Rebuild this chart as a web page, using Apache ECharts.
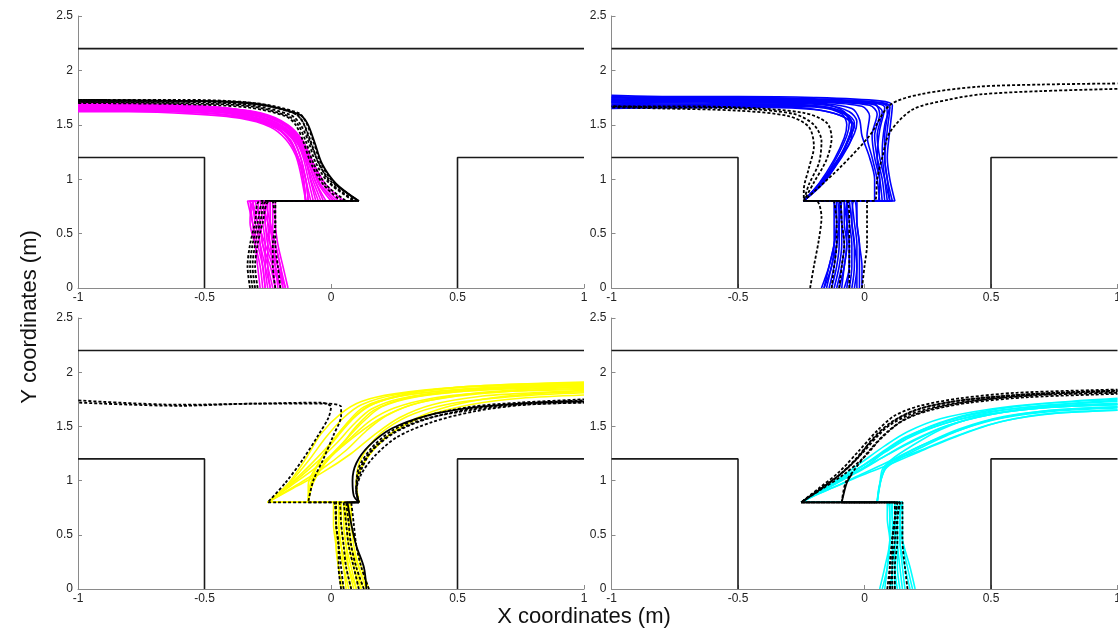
<!DOCTYPE html>
<html>
<head>
<meta charset="utf-8">
<script src="https://cdn.jsdelivr.net/npm/echarts/dist/echarts.min.js"></script>
<style>
  html, body { margin: 0; padding: 0; background: #ffffff; }
  #chart { width: 1118px; height: 632px; }
</style>
</head>
<body>
<div id="chart"></div>
<script>
// Axis ranges and ticks (metres)
const xMin = -1, xMax = 1, xStep = 0.5;
const yMin = 0, yMax = 2.5, yStep = 0.5;

// Corridor walls (T-junction)
const wallTop = [[-1, 2.2], [1, 2.2]];
const wallLeft = [[-1, 1.2], [-0.5, 1.2], [-0.5, 0]];
const wallRight = [[0.5, 0], [0.5, 1.2], [1, 1.2]];

// Panel 1: turning left (magenta runs)
const magentaPaths = [
  [[-0.17,0],[-0.19,0.2],[-0.21,0.4],[-0.22,0.6],[-0.22,0.8],[0.05,0.8],[-0.02,0.95],[-0.07,1.15],[-0.11,1.35],[-0.17,1.5],[-0.28,1.61],[-0.5,1.67],[-0.8,1.69],[-1,1.70]],
  [[-0.19,0],[-0.21,0.2],[-0.23,0.4],[-0.24,0.6],[-0.24,0.8],[0.02,0.8],[-0.04,0.95],[-0.08,1.15],[-0.12,1.35],[-0.18,1.5],[-0.3,1.6],[-0.5,1.66],[-0.8,1.68],[-1,1.69]],
  [[-0.2,0],[-0.22,0.2],[-0.25,0.4],[-0.26,0.6],[-0.27,0.8],[-0.02,0.8],[-0.06,0.97],[-0.09,1.15],[-0.13,1.33],[-0.19,1.48],[-0.3,1.58],[-0.5,1.65],[-0.8,1.67],[-1,1.68]],
  [[-0.22,0],[-0.23,0.2],[-0.24,0.4],[-0.25,0.6],[-0.25,0.8],[-0.05,0.8],[-0.08,1.0],[-0.1,1.18],[-0.14,1.35],[-0.2,1.48],[-0.32,1.58],[-0.5,1.64],[-0.8,1.66],[-1,1.67]],
  [[-0.23,0],[-0.25,0.2],[-0.27,0.4],[-0.28,0.6],[-0.29,0.8],[-0.09,0.8],[-0.1,1.0],[-0.12,1.2],[-0.15,1.36],[-0.21,1.48],[-0.33,1.57],[-0.5,1.63],[-0.8,1.65],[-1,1.66]],
  [[-0.24,0],[-0.26,0.2],[-0.28,0.4],[-0.3,0.6],[-0.31,0.8],[-0.1,0.8],[-0.11,1.0],[-0.13,1.2],[-0.16,1.36],[-0.22,1.47],[-0.34,1.56],[-0.5,1.61],[-0.8,1.63],[-1,1.64]],
  [[-0.26,0],[-0.27,0.2],[-0.29,0.4],[-0.31,0.6],[-0.33,0.8],[-0.1,0.8],[-0.12,1.05],[-0.14,1.22],[-0.18,1.37],[-0.24,1.48],[-0.36,1.56],[-0.55,1.6],[-0.8,1.62],[-1,1.62]],
  [[-0.28,0],[-0.29,0.2],[-0.3,0.4],[-0.31,0.6],[-0.32,0.8],[-0.09,0.8],[-0.1,1.0],[-0.13,1.2],[-0.17,1.38],[-0.23,1.5],[-0.35,1.59],[-0.55,1.63],[-0.8,1.64],[-1,1.65]],
  [[-0.21,0],[-0.22,0.2],[-0.23,0.4],[-0.23,0.6],[-0.23,0.8],[-0.07,0.8],[-0.09,1.0],[-0.11,1.2],[-0.14,1.36],[-0.2,1.49],[-0.31,1.59],[-0.5,1.65],[-0.8,1.67],[-1,1.68]],
  [[-0.25,0],[-0.26,0.2],[-0.26,0.4],[-0.27,0.6],[-0.28,0.8],[0.0,0.8],[-0.05,0.96],[-0.08,1.15],[-0.12,1.34],[-0.18,1.49],[-0.29,1.6],[-0.5,1.66],[-0.8,1.68],[-1,1.69]],
  [[-0.18,0],[-0.2,0.2],[-0.22,0.4],[-0.24,0.6],[-0.26,0.8],[-0.08,0.8],[-0.1,1.0],[-0.12,1.2],[-0.15,1.37],[-0.21,1.49],[-0.33,1.58],[-0.5,1.63],[-0.8,1.65],[-1,1.65]],
  [[-0.27,0],[-0.28,0.2],[-0.3,0.4],[-0.32,0.6],[-0.3,0.8],[-0.04,0.8],[-0.07,0.98],[-0.1,1.17],[-0.13,1.34],[-0.19,1.48],[-0.31,1.59],[-0.5,1.64],[-0.8,1.66],[-1,1.67]],
  [[-0.2,0],[-0.23,0.2],[-0.26,0.4],[-0.29,0.6],[-0.32,0.8],[-0.1,0.8],[-0.11,1.02],[-0.13,1.2],[-0.17,1.37],[-0.23,1.49],[-0.35,1.57],[-0.55,1.62],[-0.8,1.63],[-1,1.63]],
  [[-0.24,0],[-0.25,0.2],[-0.25,0.4],[-0.24,0.6],[-0.24,0.8],[0.03,0.8],[-0.03,0.95],[-0.075,1.16],[-0.115,1.35],[-0.175,1.5],[-0.29,1.61],[-0.5,1.67],[-0.8,1.69],[-1,1.70]],
  [[-0.19,0],[-0.2,0.2],[-0.22,0.4],[-0.25,0.6],[-0.27,0.8],[-0.06,0.8],[-0.08,0.98],[-0.1,1.17],[-0.13,1.35],[-0.19,1.49],[-0.3,1.59],[-0.5,1.65],[-0.8,1.66],[-1,1.66]],
  [[-0.22,0],[-0.24,0.2],[-0.27,0.4],[-0.28,0.6],[-0.3,0.8],[-0.03,0.8],[-0.06,0.97],[-0.09,1.16],[-0.125,1.34],[-0.18,1.49],[-0.29,1.6],[-0.5,1.66],[-0.8,1.68],[-1,1.68]],
  [[-0.26,0],[-0.27,0.2],[-0.28,0.4],[-0.29,0.6],[-0.31,0.8],[-0.1,0.8],[-0.11,1.02],[-0.135,1.22],[-0.17,1.38],[-0.24,1.5],[-0.38,1.58],[-0.6,1.62],[-0.8,1.63],[-1,1.64]],
  [[-0.18,0],[-0.21,0.2],[-0.24,0.4],[-0.26,0.6],[-0.25,0.8],[0.01,0.8],[-0.045,0.96],[-0.085,1.16],[-0.12,1.35],[-0.18,1.5],[-0.3,1.61],[-0.5,1.67],[-0.8,1.69],[-1,1.69]]
];
const magentaRefPaths = [
  [[-0.32,0],[-0.33,0.2],[-0.32,0.4],[-0.3,0.6],[-0.28,0.8],[0.11,0.8],[0.0,0.98],[-0.05,1.15],[-0.08,1.35],[-0.11,1.52],[-0.14,1.6],[-0.3,1.69],[-0.6,1.72],[-1,1.72]],
  [[-0.31,0],[-0.32,0.2],[-0.31,0.4],[-0.29,0.6],[-0.26,0.8],[0.09,0.8],[-0.01,0.97],[-0.06,1.15],[-0.09,1.35],[-0.12,1.5],[-0.16,1.59],[-0.32,1.68],[-0.6,1.71],[-1,1.71]],
  [[-0.3,0],[-0.31,0.2],[-0.3,0.4],[-0.28,0.6],[-0.25,0.8],[0.06,0.8],[-0.02,0.95],[-0.07,1.15],[-0.1,1.35],[-0.13,1.5],[-0.17,1.58],[-0.32,1.67],[-0.6,1.70],[-1,1.71]],
  [[-0.22,0],[-0.23,0.2],[-0.23,0.4],[-0.22,0.6],[-0.22,0.8],[0.11,0.8],[0.01,0.97],[-0.04,1.15],[-0.07,1.35],[-0.1,1.53],[-0.13,1.61],[-0.3,1.7],[-0.6,1.73],[-1,1.73]],
  [[-0.2,0],[-0.21,0.2],[-0.22,0.4],[-0.22,0.6],[-0.23,0.8],[0.04,0.8],[-0.03,0.95],[-0.08,1.15],[-0.11,1.35],[-0.14,1.5],[-0.18,1.58],[-0.33,1.66],[-0.6,1.69],[-1,1.70]],
  [[-0.29,0],[-0.3,0.2],[-0.29,0.4],[-0.27,0.6],[-0.24,0.8],[0.1,0.8],[0.0,0.96],[-0.05,1.16],[-0.085,1.36],[-0.115,1.54],[-0.15,1.61],[-0.31,1.7],[-0.6,1.72],[-1,1.73]]
];
const magentaRefSolid = [
  [[-0.1,0.8],[0.11,0.8],[0.02,0.96],[-0.035,1.14],[-0.065,1.34],[-0.095,1.52],[-0.13,1.6],[-0.3,1.69],[-0.6,1.72],[-1,1.72]]
];

// Panel 2: turning left (blue runs)
const bluePaths = [
  [[-0.13,0],[-0.11,0.2],[-0.1,0.4],[-0.1,0.6],[-0.11,0.8],[-0.24,0.8],[-0.17,0.98],[-0.1,1.2],[-0.05,1.42],[-0.04,1.52],[-0.07,1.6],[-0.15,1.66],[-0.4,1.68],[-0.7,1.67],[-1,1.67]],
  [[-0.16,0],[-0.13,0.2],[-0.12,0.4],[-0.12,0.6],[-0.12,0.8],[-0.24,0.8],[-0.16,0.98],[-0.09,1.2],[-0.04,1.42],[-0.03,1.53],[-0.06,1.62],[-0.15,1.68],[-0.4,1.7],[-0.7,1.69],[-1,1.70]],
  [[-0.11,0],[-0.09,0.2],[-0.08,0.4],[-0.09,0.6],[-0.1,0.8],[-0.24,0.8],[-0.18,0.96],[-0.12,1.18],[-0.08,1.38],[-0.07,1.5],[-0.09,1.6],[-0.18,1.66],[-0.4,1.67],[-0.7,1.66],[-1,1.66]],
  [[-0.14,0],[-0.12,0.2],[-0.11,0.4],[-0.1,0.6],[-0.09,0.8],[-0.24,0.8],[-0.17,0.97],[-0.11,1.2],[-0.07,1.4],[-0.06,1.52],[-0.08,1.62],[-0.16,1.69],[-0.4,1.71],[-0.7,1.70],[-1,1.71]],
  [[-0.09,0],[-0.08,0.2],[-0.07,0.4],[-0.08,0.6],[-0.08,0.8],[-0.24,0.8],[-0.16,0.99],[-0.09,1.22],[-0.05,1.4],[-0.05,1.52],[-0.08,1.61],[-0.17,1.67],[-0.4,1.69],[-0.7,1.68],[-1,1.68]],
  [[-0.12,0],[-0.1,0.2],[-0.09,0.4],[-0.09,0.6],[-0.1,0.8],[-0.24,0.8],[-0.17,0.98],[-0.1,1.2],[-0.06,1.4],[-0.05,1.5],[-0.09,1.58],[-0.2,1.64],[-0.4,1.66],[-0.7,1.66],[-1,1.65]],
  [[-0.06,0],[-0.05,0.2],[-0.05,0.4],[-0.06,0.6],[-0.07,0.8],[0.11,0.8],[0.09,1.0],[0.08,1.2],[0.09,1.45],[0.1,1.66],[0.05,1.70],[-0.2,1.73],[-0.5,1.74],[-0.8,1.74],[-1,1.75]],
  [[-0.04,0],[-0.03,0.2],[-0.03,0.4],[-0.04,0.6],[-0.05,0.8],[0.12,0.8],[0.1,1.0],[0.09,1.2],[0.1,1.45],[0.11,1.68],[0.06,1.72],[-0.2,1.75],[-0.5,1.76],[-0.8,1.76],[-1,1.77]],
  [[-0.02,0],[-0.02,0.2],[-0.02,0.4],[-0.03,0.6],[-0.03,0.8],[0.05,0.8],[0.06,1.0],[0.05,1.2],[0.06,1.45],[0.08,1.66],[0.03,1.70],[-0.2,1.72],[-0.5,1.73],[-0.8,1.72],[-1,1.73]],
  [[-0.08,0],[-0.06,0.2],[-0.06,0.4],[-0.07,0.6],[-0.08,0.8],[0.08,0.8],[0.07,1.0],[0.05,1.2],[0.04,1.4],[0.06,1.6],[0.04,1.69],[-0.2,1.72],[-0.5,1.73],[-0.8,1.73],[-1,1.74]],
  [[-0.1,0],[-0.08,0.2],[-0.07,0.4],[-0.07,0.6],[-0.06,0.8],[0.1,0.8],[0.08,1.0],[0.06,1.2],[0.05,1.4],[0.07,1.62],[0.03,1.69],[-0.2,1.71],[-0.5,1.72],[-0.8,1.72],[-1,1.72]],
  [[-0.15,0],[-0.13,0.2],[-0.11,0.4],[-0.1,0.6],[-0.1,0.8],[0.06,0.8],[0.05,1.0],[0.03,1.2],[0.01,1.4],[0.02,1.58],[-0.01,1.67],[-0.2,1.71],[-0.5,1.72],[-0.8,1.71],[-1,1.71]],
  [[-0.05,0],[-0.04,0.2],[-0.04,0.4],[-0.05,0.6],[-0.06,0.8],[0.09,0.8],[0.08,1.0],[0.07,1.25],[0.08,1.5],[0.1,1.67],[0.05,1.71],[-0.2,1.73],[-0.5,1.75],[-0.8,1.75],[-1,1.76]],
  [[-0.17,0],[-0.14,0.2],[-0.12,0.4],[-0.11,0.6],[-0.12,0.8],[0.04,0.8],[0.04,1.0],[0.02,1.2],[-0.01,1.4],[-0.02,1.55],[-0.05,1.65],[-0.2,1.70],[-0.5,1.71],[-0.8,1.71],[-1,1.71]],
  [[-0.07,0],[-0.06,0.2],[-0.06,0.4],[-0.07,0.6],[-0.07,0.8],[-0.24,0.8],[-0.16,0.97],[-0.1,1.18],[-0.06,1.38],[-0.04,1.49],[-0.1,1.59],[-0.22,1.65],[-0.4,1.67],[-0.7,1.67],[-1,1.67]],
  [[-0.03,0],[-0.03,0.2],[-0.04,0.4],[-0.05,0.6],[-0.04,0.8],[0.1,0.8],[0.09,1.0],[0.08,1.2],[0.08,1.4],[0.09,1.6],[0.08,1.69],[-0.2,1.74],[-0.5,1.75],[-0.8,1.75],[-1,1.75]],
  [[-0.16,0],[-0.14,0.2],[-0.12,0.4],[-0.11,0.6],[-0.11,0.8],[0.07,0.8],[0.06,1.0],[0.04,1.2],[0.03,1.4],[0.05,1.6],[0.02,1.68],[-0.2,1.72],[-0.5,1.73],[-0.8,1.72],[-1,1.73]],
  [[-0.01,0],[-0.01,0.2],[-0.02,0.4],[-0.03,0.6],[-0.04,0.8],[-0.24,0.8],[-0.17,0.97],[-0.1,1.19],[-0.06,1.39],[-0.05,1.51],[-0.08,1.6],[-0.18,1.67],[-0.4,1.69],[-0.7,1.68],[-1,1.69]]
];
const blueRefPaths = [
  [[-0.215,0],[-0.2,0.2],[-0.18,0.45],[-0.17,0.65],[-0.19,0.8],[-0.24,0.8],[-0.24,0.9],[-0.22,1.1],[-0.2,1.3],[-0.22,1.48],[-0.3,1.58],[-0.5,1.63],[-0.8,1.65],[-1,1.66]],
  [[-0.1,0],[-0.09,0.2],[-0.08,0.4],[-0.09,0.6],[-0.1,0.8],[-0.24,0.8],[-0.22,0.95],[-0.18,1.15],[-0.17,1.35],[-0.2,1.5],[-0.28,1.6],[-0.5,1.65],[-0.8,1.66],[-1,1.67]],
  [[-0.06,0],[-0.06,0.2],[-0.06,0.4],[-0.06,0.6],[-0.07,0.8],[-0.24,0.8],[-0.2,0.97],[-0.15,1.18],[-0.13,1.38],[-0.15,1.52],[-0.24,1.61],[-0.5,1.66],[-0.8,1.67],[-1,1.67]],
  [[-0.01,0],[0.0,0.2],[0.01,0.4],[0.01,0.6],[0.01,0.8],[-0.24,0.8],[-0.1,1.1],[0.02,1.4],[0.1,1.68],[0.22,1.78],[0.45,1.85],[0.7,1.87],[1,1.88]],
  [[-0.13,0],[-0.12,0.2],[-0.11,0.4],[-0.11,0.6],[-0.12,0.8],[0.04,0.8],[0.05,1.0],[0.07,1.2],[0.1,1.43],[0.19,1.64],[0.33,1.73],[0.46,1.78],[0.7,1.81],[1,1.83]]
];

// Panel 3: turning right (yellow runs)
const yellowPaths = [
  [[0.05,0],[0.03,0.2],[0.02,0.4],[0.02,0.6],[0.02,0.8],[-0.25,0.8],[-0.17,0.95],[-0.08,1.15],[0.0,1.35],[0.07,1.55],[0.13,1.68],[0.25,1.77],[0.5,1.84],[0.75,1.87],[1,1.89]],
  [[0.07,0],[0.05,0.2],[0.03,0.4],[0.03,0.6],[0.03,0.8],[-0.25,0.8],[-0.16,0.95],[-0.06,1.12],[0.03,1.3],[0.1,1.5],[0.17,1.65],[0.3,1.76],[0.5,1.82],[0.75,1.85],[1,1.87]],
  [[0.1,0],[0.07,0.2],[0.05,0.4],[0.04,0.6],[0.04,0.8],[-0.25,0.8],[-0.15,0.94],[-0.04,1.1],[0.06,1.28],[0.14,1.46],[0.22,1.6],[0.35,1.72],[0.55,1.8],[0.75,1.84],[1,1.86]],
  [[0.12,0],[0.09,0.2],[0.07,0.4],[0.06,0.6],[0.05,0.8],[-0.25,0.8],[-0.17,0.96],[-0.09,1.18],[-0.02,1.4],[0.05,1.58],[0.12,1.70],[0.25,1.79],[0.5,1.86],[0.75,1.89],[1,1.91]],
  [[0.14,0],[0.11,0.2],[0.08,0.4],[0.07,0.6],[0.07,0.8],[-0.09,0.8],[-0.08,0.98],[-0.04,1.2],[0.03,1.42],[0.1,1.6],[0.17,1.71],[0.3,1.79],[0.5,1.84],[0.75,1.87],[1,1.89]],
  [[0.09,0],[0.07,0.2],[0.06,0.4],[0.05,0.6],[0.05,0.8],[-0.09,0.8],[-0.08,0.97],[-0.02,1.18],[0.06,1.38],[0.13,1.55],[0.2,1.68],[0.33,1.77],[0.55,1.83],[0.75,1.86],[1,1.88]],
  [[0.11,0],[0.09,0.2],[0.07,0.4],[0.06,0.6],[0.06,0.8],[-0.09,0.8],[-0.07,0.98],[-0.01,1.2],[0.08,1.4],[0.16,1.56],[0.25,1.67],[0.4,1.76],[0.6,1.81],[0.8,1.83],[1,1.84]],
  [[0.13,0],[0.1,0.2],[0.08,0.4],[0.07,0.6],[0.08,0.8],[0.11,0.8],[0.1,0.95],[0.12,1.12],[0.17,1.3],[0.26,1.47],[0.38,1.6],[0.55,1.70],[0.75,1.76],[1,1.79]],
  [[0.15,0],[0.12,0.2],[0.1,0.4],[0.08,0.6],[0.08,0.8],[0.11,0.8],[0.1,0.97],[0.13,1.16],[0.2,1.36],[0.3,1.53],[0.43,1.66],[0.6,1.75],[0.8,1.80],[1,1.82]],
  [[0.04,0],[0.03,0.2],[0.02,0.4],[0.01,0.6],[0.01,0.8],[-0.25,0.8],[-0.16,0.96],[-0.07,1.14],[0.02,1.34],[0.09,1.52],[0.16,1.66],[0.28,1.76],[0.5,1.83],[0.75,1.86],[1,1.88]],
  [[0.08,0],[0.06,0.2],[0.04,0.4],[0.03,0.6],[0.03,0.8],[-0.25,0.8],[-0.15,0.93],[-0.03,1.08],[0.08,1.25],[0.17,1.42],[0.27,1.58],[0.4,1.70],[0.6,1.78],[0.8,1.81],[1,1.83]],
  [[0.12,0],[0.1,0.2],[0.08,0.4],[0.07,0.6],[0.06,0.8],[-0.09,0.8],[-0.09,0.96],[-0.05,1.16],[0.01,1.38],[0.08,1.56],[0.15,1.69],[0.3,1.80],[0.5,1.86],[0.75,1.89],[1,1.90]],
  [[0.06,0],[0.05,0.2],[0.04,0.4],[0.03,0.6],[0.04,0.8],[-0.25,0.8],[-0.17,0.97],[-0.1,1.2],[-0.04,1.43],[0.04,1.62],[0.12,1.73],[0.25,1.80],[0.5,1.86],[0.75,1.88],[1,1.90]],
  [[0.14,0],[0.11,0.2],[0.09,0.4],[0.08,0.6],[0.07,0.8],[0.11,0.8],[0.1,0.98],[0.11,1.15],[0.15,1.32],[0.22,1.48],[0.33,1.62],[0.5,1.72],[0.75,1.78],[1,1.81]],
  [[0.1,0],[0.08,0.2],[0.06,0.4],[0.05,0.6],[0.05,0.8],[-0.09,0.8],[-0.07,1.0],[0.0,1.22],[0.1,1.42],[0.2,1.58],[0.32,1.70],[0.5,1.78],[0.75,1.83],[1,1.85]]
];
const yellowRefPaths = [
  [[0.05,0],[0.04,0.2],[0.03,0.4],[0.02,0.6],[0.01,0.8],[-0.25,0.8],[-0.18,0.98],[-0.11,1.2],[-0.05,1.42],[-0.01,1.58],[0.0,1.68],[-0.04,1.72],[-0.3,1.71],[-0.6,1.70],[-1,1.74]],
  [[0.08,0],[0.06,0.2],[0.05,0.4],[0.04,0.6],[0.03,0.8],[-0.09,0.8],[-0.07,1.0],[-0.03,1.2],[0.01,1.42],[0.04,1.6],[0.04,1.68],[-0.01,1.71],[-0.3,1.71],[-0.6,1.69],[-1,1.72]],
  [[0.13,0],[0.1,0.2],[0.08,0.4],[0.07,0.6],[0.06,0.8],[0.11,0.8],[0.1,0.9],[0.11,1.08],[0.15,1.25],[0.23,1.42],[0.36,1.56],[0.55,1.65],[0.75,1.70],[1,1.72]],
  [[0.15,0],[0.12,0.2],[0.1,0.4],[0.09,0.6],[0.08,0.8],[0.11,0.8],[0.1,0.92],[0.12,1.1],[0.16,1.27],[0.25,1.44],[0.38,1.57],[0.55,1.66],[0.75,1.71],[1,1.74]],
  [[0.11,0],[0.09,0.2],[0.07,0.4],[0.06,0.6],[0.05,0.8],[0.11,0.8],[0.1,0.9],[0.12,1.06],[0.17,1.22],[0.26,1.4],[0.4,1.54],[0.57,1.64],[0.77,1.70],[1,1.72]],
  [[0.04,0],[0.03,0.2],[0.03,0.4],[0.02,0.6],[0.02,0.8],[0.11,0.8],[0.1,0.92],[0.11,1.12],[0.16,1.3],[0.24,1.46],[0.37,1.59],[0.55,1.68],[0.75,1.72],[1,1.75]]
];
const yellowRefSolid = [
  [[0.14,0],[0.13,0.2],[0.1,0.4],[0.08,0.6],[0.065,0.8],[0.11,0.8],[0.09,0.86],[0.085,1.0],[0.1,1.16],[0.15,1.32],[0.24,1.48],[0.38,1.6],[0.55,1.67],[0.75,1.71],[1,1.73]]
];

// Panel 4: turning right (cyan runs)
const cyanPaths = [
  [[0.06,0],[0.08,0.2],[0.1,0.45],[0.09,0.65],[0.09,0.8],[-0.25,0.8],[-0.19,0.88],[-0.12,0.98],[-0.03,1.1],[0.06,1.24],[0.15,1.38],[0.28,1.5],[0.45,1.6],[0.7,1.67],[1,1.71]],
  [[0.08,0],[0.09,0.2],[0.1,0.45],[0.1,0.65],[0.1,0.8],[-0.25,0.8],[-0.18,0.9],[-0.1,1.01],[0.0,1.15],[0.08,1.28],[0.16,1.4],[0.3,1.53],[0.45,1.62],[0.7,1.69],[1,1.74]],
  [[0.1,0],[0.11,0.2],[0.11,0.45],[0.11,0.65],[0.11,0.8],[-0.25,0.8],[-0.19,0.87],[-0.11,0.95],[-0.01,1.06],[0.1,1.18],[0.22,1.32],[0.38,1.47],[0.55,1.58],[0.75,1.64],[1,1.67]],
  [[0.12,0],[0.12,0.2],[0.12,0.45],[0.12,0.65],[0.12,0.8],[-0.25,0.8],[-0.18,0.89],[-0.09,1.0],[0.01,1.14],[0.1,1.3],[0.2,1.44],[0.33,1.56],[0.5,1.65],[0.75,1.72],[1,1.76]],
  [[0.14,0],[0.13,0.2],[0.13,0.45],[0.13,0.65],[0.13,0.8],[-0.25,0.8],[-0.2,0.87],[-0.13,0.96],[-0.04,1.07],[0.06,1.2],[0.18,1.35],[0.32,1.5],[0.5,1.61],[0.7,1.67],[1,1.70]],
  [[0.16,0],[0.15,0.2],[0.14,0.45],[0.14,0.65],[0.14,0.8],[0.05,0.8],[0.06,0.95],[0.08,1.1],[0.13,1.19],[0.22,1.3],[0.36,1.45],[0.5,1.56],[0.7,1.64],[1,1.68]],
  [[0.18,0],[0.16,0.2],[0.14,0.45],[0.14,0.65],[0.15,0.8],[0.05,0.8],[0.06,0.96],[0.08,1.12],[0.11,1.2],[0.18,1.31],[0.3,1.47],[0.45,1.59],[0.7,1.67],[1,1.70]],
  [[0.2,0],[0.18,0.2],[0.15,0.45],[0.14,0.65],[0.14,0.8],[0.05,0.8],[0.06,0.95],[0.07,1.1],[0.1,1.17],[0.2,1.26],[0.35,1.4],[0.5,1.52],[0.7,1.61],[1,1.65]],
  [[0.07,0],[0.09,0.2],[0.1,0.45],[0.1,0.65],[0.09,0.8],[-0.25,0.8],[-0.19,0.89],[-0.11,0.99],[-0.02,1.12],[0.08,1.26],[0.18,1.4],[0.32,1.53],[0.5,1.63],[0.7,1.69],[1,1.73]],
  [[0.13,0],[0.12,0.2],[0.12,0.45],[0.12,0.65],[0.12,0.8],[-0.25,0.8],[-0.18,0.9],[-0.1,1.02],[-0.01,1.17],[0.08,1.32],[0.17,1.45],[0.3,1.57],[0.5,1.66],[0.7,1.71],[1,1.75]],
  [[0.19,0],[0.17,0.2],[0.15,0.45],[0.15,0.65],[0.15,0.8],[-0.25,0.8],[-0.2,0.86],[-0.12,0.94],[-0.02,1.04],[0.1,1.15],[0.24,1.29],[0.4,1.44],[0.55,1.55],[0.75,1.62],[1,1.65]],
  [[0.11,0],[0.11,0.2],[0.12,0.45],[0.11,0.65],[0.1,0.8],[0.05,0.8],[0.06,0.97],[0.09,1.14],[0.14,1.22],[0.24,1.34],[0.38,1.48],[0.55,1.59],[0.75,1.65],[1,1.68]],
  [[0.15,0],[0.14,0.2],[0.13,0.45],[0.13,0.65],[0.13,0.8],[-0.25,0.8],[-0.19,0.88],[-0.11,0.98],[-0.01,1.1],[0.09,1.24],[0.19,1.37],[0.33,1.51],[0.5,1.61],[0.7,1.68],[1,1.71]]
];
const cyanRefPaths = [
  [[0.09,0],[0.1,0.2],[0.11,0.45],[0.12,0.65],[0.13,0.8],[-0.25,0.8],[-0.18,0.92],[-0.1,1.05],[-0.03,1.2],[0.03,1.38],[0.1,1.53],[0.2,1.65],[0.35,1.73],[0.55,1.78],[0.75,1.81],[1,1.83]],
  [[0.1,0],[0.1,0.2],[0.11,0.45],[0.12,0.65],[0.12,0.8],[-0.25,0.8],[-0.17,0.93],[-0.09,1.07],[-0.01,1.25],[0.06,1.43],[0.13,1.57],[0.23,1.67],[0.38,1.74],[0.6,1.79],[0.8,1.81],[1,1.82]],
  [[0.11,0],[0.11,0.2],[0.12,0.45],[0.13,0.65],[0.14,0.8],[-0.25,0.8],[-0.18,0.91],[-0.11,1.03],[-0.05,1.16],[0.01,1.32],[0.08,1.48],[0.18,1.61],[0.32,1.70],[0.55,1.77],[0.8,1.81],[1,1.83]],
  [[0.12,0],[0.12,0.2],[0.13,0.45],[0.13,0.65],[0.14,0.8],[-0.09,0.8],[-0.075,0.98],[-0.04,1.1],[0.02,1.28],[0.09,1.45],[0.17,1.58],[0.28,1.67],[0.45,1.74],[0.7,1.79],[1,1.81]],
  [[0.17,0],[0.16,0.2],[0.15,0.45],[0.15,0.65],[0.15,0.8],[-0.25,0.8],[-0.17,0.92],[-0.08,1.06],[0.0,1.22],[0.07,1.4],[0.15,1.55],[0.26,1.65],[0.42,1.72],[0.65,1.77],[1,1.80]],
  [[0.1,0],[0.11,0.2],[0.11,0.45],[0.12,0.65],[0.13,0.8],[-0.25,0.8],[-0.18,0.93],[-0.1,1.08],[-0.02,1.28],[0.05,1.46],[0.12,1.6],[0.22,1.69],[0.38,1.76],[0.6,1.81],[1,1.84]]
];
const cyanRefSolid = [
  [[0.05,0.8],[-0.09,0.8],[-0.08,0.9],[-0.07,0.98],[-0.05,1.06]]
];

// One entry per panel: run colour, runs, dashed and solid reference runs
const panels = [
  { color: '#ff00ff', runs: magentaPaths, refs: magentaRefPaths, solid: magentaRefSolid },
  { color: '#0000ff', runs: bluePaths, refs: blueRefPaths, solid: [] },
  { color: '#ffff00', runs: yellowPaths, refs: yellowRefPaths, solid: yellowRefSolid },
  { color: '#00ffff', runs: cyanPaths, refs: cyanRefPaths, solid: cyanRefSolid }
];

const gridBoxes = [
  { left: 78, top: 16, width: 506, height: 272 },
  { left: 611.5, top: 16, width: 506, height: 272 },
  { left: 78, top: 318, width: 506, height: 271 },
  { left: 611.5, top: 318, width: 506, height: 271 }
];

const font = '"Liberation Sans", Arial, Helvetica, sans-serif';
const axisGrey = '#8a8a8a';

const grids = gridBoxes.map(g => Object.assign({ containLabel: false, outerBoundsMode: 'none' }, g));

const xAxes = gridBoxes.map((g, i) => ({
  gridIndex: i, type: 'value', min: xMin, max: xMax, interval: xStep,
  axisLine: { show: true, onZero: false, lineStyle: { color: axisGrey, width: 1 } },
  axisTick: { show: true, inside: true, length: 4, lineStyle: { color: axisGrey } },
  axisLabel: { margin: 4, fontSize: 12, color: '#222', fontFamily: font, showMinLabel: true, showMaxLabel: true },
  splitLine: { show: false }
}));
const yAxes = gridBoxes.map((g, i) => ({
  gridIndex: i, type: 'value', min: yMin, max: yMax, interval: yStep,
  axisLine: { show: true, onZero: false, lineStyle: { color: axisGrey, width: 1 } },
  axisTick: { show: true, inside: true, length: 4, lineStyle: { color: axisGrey } },
  axisLabel: { margin: 5, fontSize: 12, color: '#222', fontFamily: font, showMinLabel: true, showMaxLabel: true },
  splitLine: { show: false }
}));

const series = [];
function addLine(data, gi, lineStyle, smooth) {
  series.push({
    type: 'line', xAxisIndex: gi, yAxisIndex: gi, data: data,
    symbol: 'none', showSymbol: false, smooth: smooth, clip: true,
    silent: true, animation: false, lineStyle: lineStyle
  });
}

panels.forEach((p, gi) => {
  [wallTop, wallLeft, wallRight].forEach(w => addLine(w, gi, { color: '#1a1a1a', width: 1.6 }, false));
  p.runs.forEach(r => addLine(r, gi, { color: p.color, width: 1.6 }, 0.3));
  p.refs.forEach(r => addLine(r, gi, { color: '#000000', width: 1.8, type: [3, 2] }, 0.3));
  p.solid.forEach(r => addLine(r, gi, { color: '#000000', width: 1.8 }, 0.3));
});

const chart = echarts.init(document.getElementById('chart'), null, { renderer: 'canvas' });
chart.setOption({
  backgroundColor: '#ffffff',
  animation: false,
  grid: grids,
  xAxis: xAxes,
  yAxis: yAxes,
  series: series,
  graphic: [
    {
      type: 'text', x: 584, y: 617,
      style: { text: 'X coordinates (m)', font: '22px ' + font, fill: '#111', textAlign: 'center', textVerticalAlign: 'middle' }
    },
    {
      type: 'text', x: 30, y: 317, rotation: Math.PI / 2,
      style: { text: 'Y coordinates (m)', font: '22px ' + font, fill: '#111', textAlign: 'center', textVerticalAlign: 'middle' }
    }
  ]
});
</script>
</body>
</html>
